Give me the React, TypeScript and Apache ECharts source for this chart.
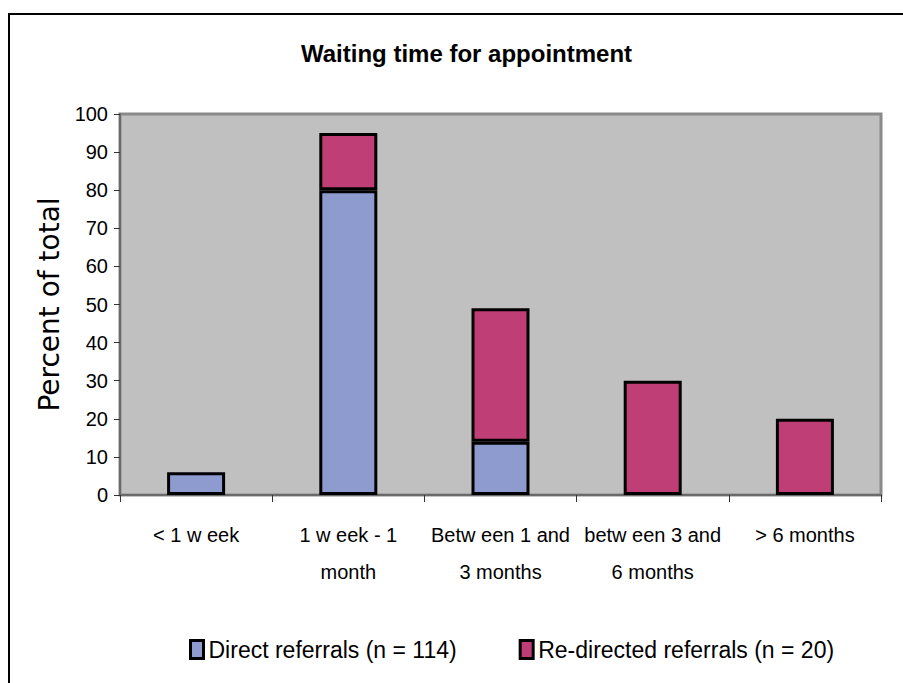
import React, { useEffect, useRef } from "react";
import * as echarts from "echarts";

const categories = [
  "< 1 w eek",
  "1 w eek - 1\nmonth",
  "Betw een 1 and\n3 months",
  "betw een 3 and\n6 months",
  "> 6 months",
];
const directValues = [6, 80, 14, 0, 0];
const redirectedValues = [0, 15, 35, 30, 20];
const seriesNames = ["Direct referrals (n = 114)", "Re-directed referrals (n = 20)"];
const yTicks = { min: 0, max: 100, interval: 10 };

const SANS = "'Liberation Sans', Arial, sans-serif";

const noZero = (arr: number[]) => arr.map((v) => (v === 0 ? null : v));

export default function App() {
  const ref = useRef<HTMLDivElement>(null);
  useEffect(() => {
    document.body.style.margin = "0";
    const chart = echarts.init(ref.current!, null, { renderer: "svg" });
    chart.setOption({
      animation: false,
      backgroundColor: "#ffffff",
      title: {
        text: "Waiting time for appointment",
        left: 296,
        top: 36,
        textStyle: { fontFamily: SANS, fontSize: 24, fontWeight: "bold", color: "#000" },
      },
      graphic: [
        {
          type: "rect",
          shape: { x: 9, y: 14, width: 1000, height: 1000 },
          style: { fill: "none", stroke: "#000", lineWidth: 2 },
          z: -10,
        },
      ],
      legend: {
        left: 184,
        top: 633,
        itemWidth: 13,
        itemHeight: 18,
        itemGap: 62,
        icon: "rect",
        itemStyle: { borderColor: "#000", borderWidth: 3 },
        textStyle: { fontFamily: SANS, fontSize: 23, color: "#000" },
        data: seriesNames,
      },
      grid: {
        left: 120,
        right: 22,
        top: 114,
        bottom: 188,
        show: true,
        backgroundColor: "#c0c0c0",
        borderColor: "#8a8a8a",
        borderWidth: 3,
      },
      xAxis: {
        type: "category",
        data: categories,
        axisLine: { show: true, lineStyle: { color: "#6a6a6a", width: 2 } },
        axisTick: { show: true, length: 7, lineStyle: { color: "#333", width: 1 } },
        axisLabel: {
          fontFamily: SANS,
          fontSize: 20,
          color: "#000",
          lineHeight: 37,
          margin: 21,
          interval: 0,
        },
      },
      yAxis: {
        type: "value",
        min: yTicks.min,
        max: yTicks.max,
        interval: yTicks.interval,
        name: "Percent of total",
        nameLocation: "middle",
        nameGap: 34,
        nameTextStyle: { fontFamily: "'DejaVu Sans', sans-serif", fontSize: 28, color: "#000" },
        splitLine: { show: false },
        axisLine: { show: true, lineStyle: { color: "#6a6a6a", width: 2 } },
        axisTick: { show: true, length: 6, lineStyle: { color: "#333", width: 1 } },
        axisLabel: { fontFamily: SANS, fontSize: 20, color: "#000", margin: 12 },
      },
      series: [
        {
          name: seriesNames[0],
          type: "bar",
          stack: "total",
          data: noZero(directValues),
          barWidth: 58,
          itemStyle: { color: "#8e9bcf", borderColor: "#000", borderWidth: 3 },
        },
        {
          name: seriesNames[1],
          type: "bar",
          stack: "total",
          data: noZero(redirectedValues),
          barWidth: 58,
          itemStyle: { color: "#c03e76", borderColor: "#000", borderWidth: 3 },
        },
      ],
    });
    return () => chart.dispose();
  }, []);
  return <div ref={ref} style={{ width: 903, height: 683 }} />;
}
